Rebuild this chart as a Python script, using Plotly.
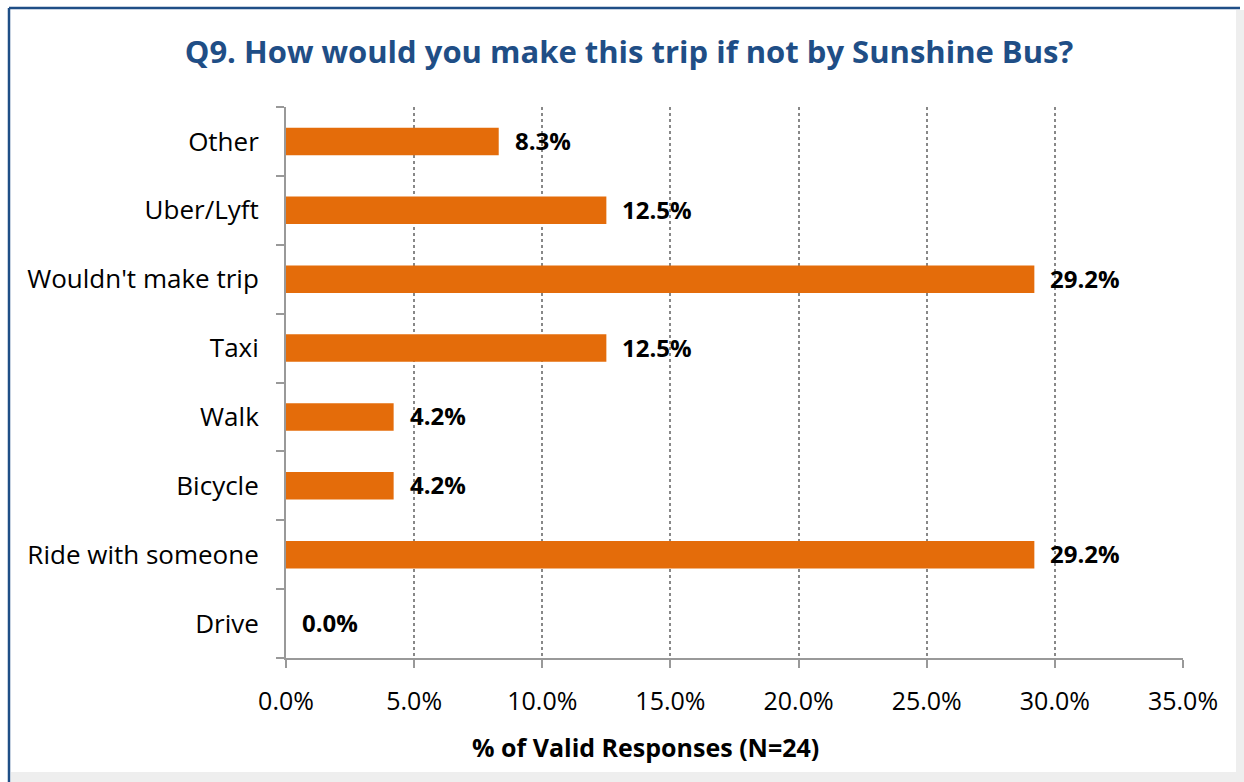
import plotly.graph_objects as go

categories = ["Drive", "Ride with someone", "Bicycle", "Walk", "Taxi",
              "Wouldn't make trip", "Uber/Lyft", "Other"]
values = [0.0, 29.2, 4.2, 4.2, 12.5, 29.2, 12.5, 8.3]
tick_vals = [0, 5, 10, 15, 20, 25, 30, 35]
tick_text = ["0.0%", "5.0%", "10.0%", "15.0%", "20.0%", "25.0%", "30.0%", "35.0%"]

FONT = "Open Sans"
W, H = 1244, 782
L, R, T, B = 286, 61, 107, 124
pw, ph = W - L - R, H - T - B

def px_x(x):
    return (x - L) / pw

def px_y(y):
    return (H - B - y) / ph

fig = go.Figure()
fig.add_trace(go.Bar(
    y=categories, x=values, orientation="h",
    marker=dict(color="#E46C0A", line=dict(width=0)),
    width=0.4,
    hoverinfo="skip",
))

for c, v in zip(categories, values):
    fig.add_annotation(x=v, y=c, xref="x", yref="y", text=f"<b>{v:.1f}%</b>",
                       showarrow=False, xanchor="left", yanchor="middle",
                       xshift=14, yshift=1,
                       font=dict(family=FONT, size=24, color="#000000"))

# x-axis title (centred slightly left of plot centre, as in the original)
fig.add_annotation(x=645 / W, y=1 - 747 / H, xref="paper", yref="paper",
                   text="<b>% of Valid Responses (N=24)</b>", showarrow=False,
                   xanchor="center", yanchor="middle",
                   font=dict(family=FONT, size=25, color="#000000"))
fig.layout.annotations[-1].update(x=px_x(645), y=px_y(747))

fig.update_layout(
    width=W, height=H,
    margin=dict(l=L, r=R, t=T, b=B),
    paper_bgcolor="white", plot_bgcolor="white",
    showlegend=False,
    title=dict(text="<b>Q9. How would you make this trip if not by Sunshine Bus?</b>",
               x=629 / W, xref="container", xanchor="center",
               y=1 - 52 / H, yref="container", yanchor="middle",
               font=dict(family=FONT, size=31, color="#1F4E86")),
    xaxis=dict(range=[0, 35], tickvals=tick_vals, ticktext=tick_text,
               showgrid=True, gridcolor="#888888", griddash="dot", gridwidth=1.5,
               showline=True, linecolor="#999999", linewidth=2,
               ticks="outside", ticklen=8, tickcolor="#999999", tickwidth=2,
               tickfont=dict(family=FONT, size=25, color="#000000"),
               ticklabelstandoff=12,
               zeroline=False),
    yaxis=dict(categoryorder="array", categoryarray=categories,
               showline=True, linecolor="#999999", linewidth=2,
               ticks="outside", ticklen=8, tickcolor="#999999", tickwidth=2,
               tickson="boundaries", showgrid=False,
               tickfont=dict(family=FONT, size=26, color="#000000"),
               ticklabelstandoff=20),
    bargap=0.6,
)

# frame: blue left/top border, soft gray right/bottom edge
fig.add_shape(type="line", xref="paper", yref="paper",
              x0=px_x(9), x1=px_x(9), y0=px_y(8), y1=px_y(782),
              line=dict(color="#1F4E86", width=2.5))
fig.add_shape(type="line", xref="paper", yref="paper",
              x0=px_x(9), x1=px_x(1240), y0=px_y(8), y1=px_y(8),
              line=dict(color="#1F4E86", width=2.5))
fig.add_shape(type="rect", xref="paper", yref="paper",
              x0=px_x(1236), x1=px_x(1244), y0=px_y(10), y1=px_y(782),
              fillcolor="#EEEEEE", line=dict(width=0), layer="below")
fig.add_shape(type="rect", xref="paper", yref="paper",
              x0=px_x(11), x1=px_x(1244), y0=px_y(772), y1=px_y(782),
              fillcolor="#EEEEEE", line=dict(width=0), layer="below")

fig.write_html("out.html")
